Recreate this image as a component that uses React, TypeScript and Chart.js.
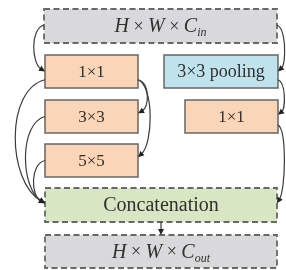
import React, { useEffect, useRef } from "react";
import { Chart, registerables } from "chart.js";

Chart.register(...registerables);

// ---- data ----
const nodeIds = ["in", "c1", "pool", "c3", "pc1", "c5", "cat", "out"];
const nodeLabels = ["H × W × C", "1×1", "3×3 pooling", "3×3", "1×1", "5×5", "Concatenation", "H × W × C"];
const nodeSubs = ["in", "", "", "", "", "", "", "out"];
const nodeKinds = ["io", "conv", "pool", "conv", "conv", "conv", "concat", "io"];
const nodeX0 = [44, 45, 164, 45, 185, 45, 45, 45];
const nodeX1 = [277, 138, 278, 138, 278, 138, 277, 277];
const nodeY0 = [9, 55, 55, 100, 100, 144, 188, 235];
const nodeY1 = [43, 88, 88, 133, 133, 177, 222, 268];

// edges: from, fromSide, fromFrac, to, toFrac, bulge
const edgeFrom = ["in", "in", "c1", "c1", "pool", "pc1", "c1", "c3", "c5", "cat"];
const edgeFromSide = ["L", "R", "R", "R", "R", "R", "L", "L", "L", "B"];
const edgeFromFrac = [0.47, 0.47, 0.75, 0.75, 0.75, 0.75, 0.75, 0.5, 0.5, 0.5];
const edgeTo = ["c1", "pool", "c3", "c5", "pc1", "cat", "cat", "cat", "cat", "out"];
const edgeToFrac = [0.5, 0.5, 0.4, 0.4, 0.45, 0.45, 0.45, 0.45, 0.45, 0.5];
const edgeBulge = [14, 9, 12, 16, 8, 9, 40, 26, 15, 0];

const SERIF = '"Liberation Serif", "Times New Roman", serif';

const fills: Record<string, string> = {
  io: "#d9d9db",
  conv: "#fbd5b7",
  pool: "#bfe2ec",
  concat: "#d8e6c4",
};

const diagramPlugin = {
  id: "diagram",
  afterDatasetsDraw(chart: any) {
    const ctx: CanvasRenderingContext2D = chart.ctx;
    const xs = chart.scales.x;
    const ys = chart.scales.y;
    const px = (v: number) => xs.getPixelForValue(v);
    const py = (v: number) => ys.getPixelForValue(v);
    const idx = (id: string) => nodeIds.indexOf(id);

    ctx.save();
    nodeIds.forEach((id, i) => {
      const x0 = px(nodeX0[i]);
      const x1 = px(nodeX1[i]);
      const y0 = py(nodeY0[i]);
      const y1 = py(nodeY1[i]);
      const kind = nodeKinds[i];
      ctx.fillStyle = fills[kind];
      ctx.fillRect(x0, y0, x1 - x0, y1 - y0);
      const dashed = kind === "io" || kind === "concat";
      ctx.lineWidth = dashed ? 1.8 : 1.5;
      ctx.strokeStyle = dashed ? "#686868" : "#666666";
      ctx.setLineDash(dashed ? [6, 3.5] : []);
      ctx.strokeRect(x0, y0, x1 - x0, y1 - y0);
      ctx.setLineDash([]);

      const cx = (x0 + x1) / 2;
      const cy = (y0 + y1) / 2;
      ctx.fillStyle = "#303030";
      ctx.textBaseline = "middle";
      if (kind === "io") {
        const parts = nodeLabels[i].split(" ");
        const segs: { t: string; f: string; dy: number }[] = [];
        parts.forEach((p) => {
          if (p === "×") segs.push({ t: " × ", f: `18px ${SERIF}`, dy: 0 });
          else segs.push({ t: p, f: `italic 20px ${SERIF}`, dy: 0 });
        });
        segs.push({ t: nodeSubs[i], f: `italic 12px ${SERIF}`, dy: 6 });
        let total = 0;
        segs.forEach((s) => {
          ctx.font = s.f;
          total += ctx.measureText(s.t).width;
        });
        let x = cx - total / 2;
        ctx.textAlign = "left";
        segs.forEach((s) => {
          ctx.font = s.f;
          ctx.fillText(s.t, x, cy + 1 + s.dy);
          x += ctx.measureText(s.t).width;
        });
      } else {
        const size = kind === "concat" ? 20 : kind === "pool" ? 18 : 17;
        ctx.font = `${size}px ${SERIF}`;
        ctx.textAlign = "center";
        ctx.fillText(nodeLabels[i], cx, cy + 1);
      }
    });

    ctx.strokeStyle = "#3c3c3c";
    ctx.fillStyle = "#222";
    ctx.lineWidth = 1.2;
    edgeFrom.forEach((f, k) => {
      const a = idx(f);
      const b = idx(edgeTo[k]);
      const side = edgeFromSide[k];
      let sx: number, sy: number, ex: number, ey: number;
      let c1x: number, c1y: number, c2x: number, c2y: number;
      if (side === "B") {
        sx = px((nodeX0[a] + nodeX1[a]) / 2);
        sy = py(nodeY1[a]);
        ex = sx;
        ey = py(nodeY0[b]);
        c1x = sx; c1y = sy + 3; c2x = ex; c2y = ey - 3;
      } else {
        const dir = side === "L" ? -1 : 1;
        const ax = side === "L" ? nodeX0[a] : nodeX1[a];
        const bx = side === "L" ? nodeX0[b] : nodeX1[b];
        const ay = nodeY0[a] + (nodeY1[a] - nodeY0[a]) * edgeFromFrac[k];
        const by = nodeY0[b] + (nodeY1[b] - nodeY0[b]) * edgeToFrac[k];
        sx = px(ax); sy = py(ay); ex = px(bx); ey = py(by);
        const bulge = Math.abs(px(edgeBulge[k]) - px(0));
        const dy = ey - sy;
        c1x = sx + dir * bulge; c1y = sy + dy * 0.08;
        c2x = ex + dir * bulge * 0.95; c2y = ey - dy * 0.18;
      }
      const ang = Math.atan2(ey - c2y, ex - c2x);
      const L = 6;
      const lx = ex - Math.cos(ang) * L * 0.8;
      const ly = ey - Math.sin(ang) * L * 0.8;
      ctx.beginPath();
      ctx.moveTo(sx, sy);
      ctx.bezierCurveTo(c1x, c1y, c2x, c2y, lx, ly);
      ctx.stroke();
      ctx.beginPath();
      ctx.moveTo(ex, ey);
      ctx.lineTo(ex - Math.cos(ang) * L + Math.sin(ang) * 3, ey - Math.sin(ang) * L - Math.cos(ang) * 3);
      ctx.lineTo(ex - Math.cos(ang) * L - Math.sin(ang) * 3, ey - Math.sin(ang) * L + Math.cos(ang) * 3);
      ctx.closePath();
      ctx.fill();
    });
    ctx.restore();
  },
};

export default function App() {
  const ref = useRef<HTMLCanvasElement | null>(null);
  useEffect(() => {
    if (!ref.current) return;
    const centers = nodeIds.map((_, i) => ({
      x: (nodeX0[i] + nodeX1[i]) / 2,
      y: (nodeY0[i] + nodeY1[i]) / 2,
    }));
    const chart = new Chart(ref.current, {
      type: "scatter",
      data: {
        datasets: [{ data: centers, pointRadius: 0, pointHoverRadius: 0 }],
      },
      options: {
        animation: false,
        responsive: true,
        maintainAspectRatio: false,
        layout: { padding: 0 },
        events: [],
        scales: {
          x: { type: "linear", min: 0, max: 286, display: false },
          y: { type: "linear", min: 0, max: 270, reverse: true, display: false },
        },
        plugins: { legend: { display: false }, tooltip: { enabled: false } },
      },
      plugins: [diagramPlugin],
    });
    return () => chart.destroy();
  }, []);
  return (
    <div style={{ position: "fixed", left: 0, top: 0, width: 286, height: 270, background: "#fff" }}>
      <canvas ref={ref} />
    </div>
  );
}
